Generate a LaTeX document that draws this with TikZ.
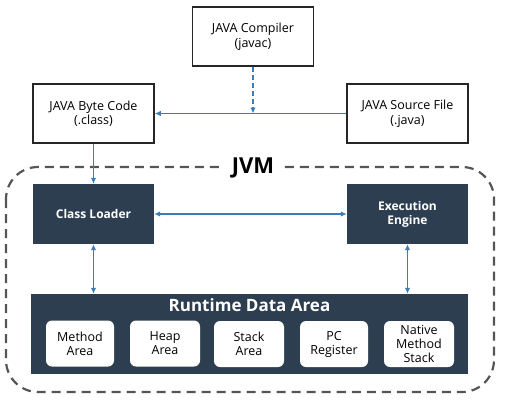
\documentclass[tikz,border=0pt]{standalone}
\usepackage{fontspec}
\setmainfont{Open Sans}
\usetikzlibrary{arrows.meta}

\begin{document}
\begin{tikzpicture}[x=1pt, y=-1pt,
    whitebox/.style={draw=black!85, line width=1.6pt, fill=white, minimum width=121pt, minimum height=59pt, align=center, font=\fontsize{12.5}{14.5}\selectfont},
    darkbox/.style={fill=darkNavy, text=white, minimum width=121pt, minimum height=60pt, align=center, font=\fontsize{12}{14}\selectfont\bfseries},
    areabox/.style={fill=white, rounded corners=6pt, minimum width=68pt, minimum height=46pt, inner sep=1pt, align=center, font=\fontsize{12.5}{14}\selectfont},
    flow/.style={draw=arrowBlue, line width=1.6pt, -{Latex[length=6pt,width=5.5pt]}},
    twoway/.style={draw=arrowBlue, line width=1.6pt, {Latex[length=6pt,width=5.5pt]}-{Latex[length=6pt,width=5.5pt]}}
]
    \definecolor{darkNavy}{HTML}{2C3E50}
    \definecolor{arrowBlue}{HTML}{3A7DB8}
    \definecolor{dashGray}{HTML}{555555}

    \useasboundingbox (0,0) rectangle (512,405);

    % Draw JVM boundary
    \draw[dashGray, line width=2.2pt, dash pattern=on 9pt off 6pt, rounded corners=32pt] (6,167) rectangle (494,392);
    \node[fill=white, font=\fontsize{22}{24}\selectfont\bfseries, inner xsep=8pt] (jvm) at (253,168) {JVM};

    % Compile stage
    \node[whitebox] (compiler) at (253,36.5) {JAVA Compiler\\(javac)};
    \node[whitebox] (bytecode) at (93.5,113.5) {JAVA Byte Code\\(.class)};
    \node[whitebox] (source) at (407.5,113.5) {JAVA Source File\\(.java)};

    % JVM parts
    \node[darkbox] (loader) at (93.5,214) {Class Loader};
    \node[darkbox] (engine) at (407.5,214) {Execution\\Engine};
    \node[fill=darkNavy, minimum width=437pt, minimum height=80pt] (runtime) at (249.5,334) {};
    \node[text=white, font=\fontsize{17}{19}\selectfont\bfseries] (rtitle) at (249.5,305) {Runtime Data Area};

    % Memory areas
    \node[areabox] (method) at (80,343.5) {Method\\Area};
    \node[areabox, minimum width=70pt] (heap) at (165,343.5) {Heap\\Area};
    \node[areabox, minimum width=70pt] (stack) at (249,344) {Stack\\Area};
    \node[areabox] (pc) at (334,344) {PC\\Register};
    \node[areabox, minimum width=70pt] (native) at (419,344) {Native\\Method\\Stack};

    % Draw arrows
    \coordinate (join) at (compiler.south |- source.west);
    \draw[flow] (source.west) -- (bytecode.east);
    \draw[flow, dashed, dash pattern=on 5pt off 3pt] (compiler.south) -- (join);
    \draw[flow] (bytecode.south) -- (loader.north);
    \draw[twoway] (loader.east) -- (engine.west);
    \draw[twoway] (loader.south) -- (loader.south |- runtime.north);
    \draw[twoway] (engine.south) -- (engine.south |- runtime.north);

\end{tikzpicture}
\end{document}
